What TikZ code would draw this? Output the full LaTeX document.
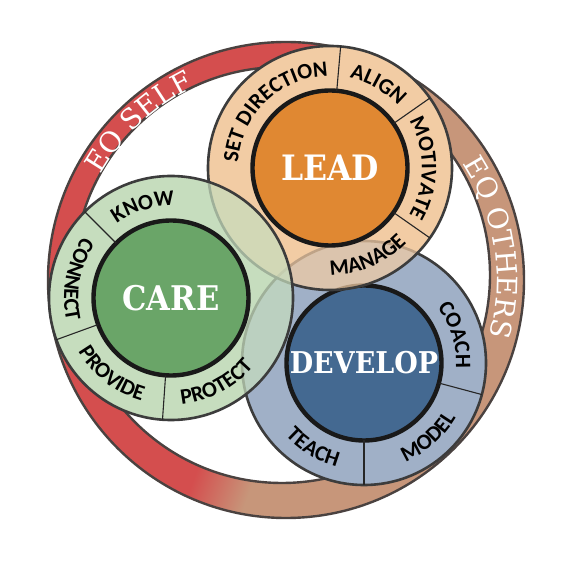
\documentclass[tikz,border=0pt]{standalone}
\usepackage{fontspec}
\usepackage{graphicx}
\usepackage{xcolor}
\usetikzlibrary{decorations.text, positioning}
\newfontfamily\ringfamily{Carlito}
\newfontfamily\corefamily{DejaVu Serif}
\definecolor{EQRed}{RGB}{212, 78, 78}
\definecolor{EQTan}{RGB}{199, 150, 122}
\definecolor{EQLine}{RGB}{74, 66, 64}
\definecolor{RingLine}{RGB}{60, 60, 60}
\definecolor{LeadOrange}{RGB}{224, 136, 50}
\definecolor{LeadPeach}{RGB}{242, 204, 164}
\definecolor{CareGreen}{RGB}{106, 165, 104}
\definecolor{CareMint}{RGB}{198, 221, 190}
\definecolor{DevBlue}{RGB}{68, 105, 145}
\definecolor{DevGrey}{RGB}{160, 176, 199}
\pgfdeclarehorizontalshading{eqband}{100bp}{color(0bp)=(EQRed); color(48bp)=(EQRed); color(54bp)=(EQTan); color(100bp)=(EQTan)}
\newcommand{\ringfont}{\ringfamily\bfseries\fontsize{22}{22}\selectfont}
\newcommand{\eqfont}{\corefamily\fontsize{28}{28}\selectfont\color{white}}
\newcommand{\corelabel}[2]{\scalebox{0.9}[1]{\corefamily\bfseries\fontsize{#1}{#1}\selectfont #2}}

\begin{document}
\begin{tikzpicture}[x=1pt, y=1pt,
    ring/.style={circle, draw=RingLine, line width=2.6pt, minimum size=244pt, inner sep=0pt, outer sep=0pt},
    core/.style={circle, draw=black!90, line width=4.4pt, minimum size=155pt, inner sep=0pt, outer sep=0pt, text=white},
    divider/.style={black!85, line width=1.1pt},
    cwword/.style={decorate, decoration={text along path, text align=center, text={|\ringfont|#1}}},
    eqword/.style={decorate, decoration={text along path, text align=center, text={|\eqfont|#1}}}]
    \useasboundingbox (0,0) rectangle (572,573);
    \coordinate (eqo) at (286,293);
    \coordinate (eqi) at (282,298);
    \coordinate (leadc) at (330,405);
    \coordinate (carec) at (171,275);
    \coordinate (devc) at (364,210);

    \shade[shading=eqband, shading angle=-20, even odd rule] (eqo) circle[radius=238] (eqi) circle[radius=208];
    \draw[EQLine, line width=2.4pt] (eqo) circle[radius=238] (eqi) circle[radius=208];

    \fill[CareMint] (carec) circle[radius=122];
    \fill[LeadPeach] (leadc) circle[radius=122];

    \node[ring, fill=DevGrey] (devring) at (devc) {};
    \node[core, fill=DevBlue] (dev) at (devc) {\corelabel{30}{DEVELOP}};
    \draw[divider] (dev.-15) -- (devring.-15);
    \draw[divider] (dev.-90) -- (devring.-90);

    \node[ring, fill=LeadPeach, fill opacity=0.72] (leadring) at (leadc) {};
    \node[core, fill=LeadOrange] (lead) at (leadc) {\corelabel{35}{LEAD}};
    \draw[divider] (lead.85) -- (leadring.85);
    \draw[divider] (lead.35) -- (leadring.35);
    \draw[divider] (lead.-35) -- (leadring.-35);

    \node[ring, fill=CareMint, fill opacity=0.72] (carering) at (carec) {};
    \node[core, fill=CareGreen] (care) at (carec) {\corelabel{34}{CARE}};
    \draw[divider] (care.135) -- (carering.135);
    \draw[divider] (care.200) -- (carering.200);
    \draw[divider] (care.266) -- (carering.266);

    \path[cwword={SET DIRECTION}] (leadc) ++(204:92) arc[start angle=204, end angle=64, radius=92];
    \path[cwword={ALIGN}] (leadc) ++(130:92) arc[start angle=130, end angle=-10, radius=92];
    \path[cwword={MOTIVATE}] (leadc) ++(70:92) arc[start angle=70, end angle=-70, radius=92];
    \path[cwword={MANAGE}] (leadc) ++(-137:107) arc[start angle=-137, end angle=3, radius=107];

    \path[cwword={KNOW}] (carec) ++(177:92) arc[start angle=177, end angle=37, radius=92];
    \path[cwword={CONNECT}] (carec) ++(99:107) arc[start angle=99, end angle=239, radius=107];
    \path[cwword={PROVIDE}] (carec) ++(162:107) arc[start angle=162, end angle=302, radius=107];
    \path[cwword={PROTECT}] (carec) ++(228:107) arc[start angle=228, end angle=368, radius=107];

    \path[cwword={COACH}] (devc) ++(87:92) arc[start angle=87, end angle=-53, radius=92];
    \path[cwword={MODEL}] (devc) ++(-119:107) arc[start angle=-119, end angle=21, radius=107];
    \path[cwword={TEACH}] (devc) ++(-191:107) arc[start angle=-191, end angle=-51, radius=107];

    \path[eqword={EQ SELF}] (eqo) ++(173:213) arc[start angle=173, end angle=93, radius=213];
    \path[eqword={EQ OTHERS}] (eqo) ++(49:211) arc[start angle=49, end angle=-31, radius=211];
\end{tikzpicture}
\end{document}
